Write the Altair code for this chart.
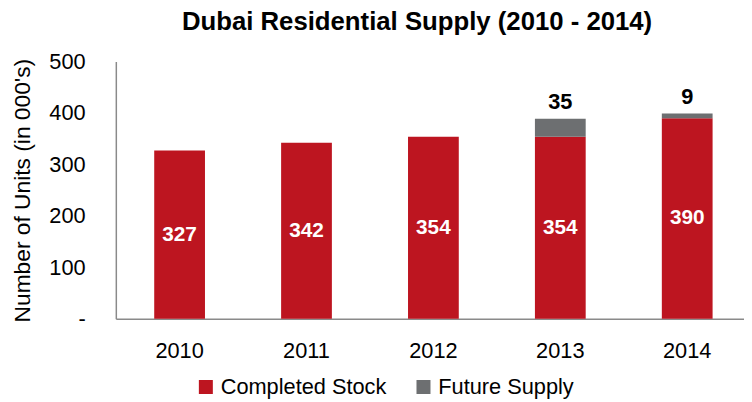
import altair as alt
import pandas as pd

years = ["2010", "2011", "2012", "2013", "2014"]
completed = [327, 342, 354, 354, 390]
future = [0, 0, 0, 35, 9]
series = ["Completed Stock", "Future Supply"]
colors = ["#BD1520", "#6D6F71"]

FONT = "Liberation Sans, Arial, sans-serif"

rows = []
for y, c, f in zip(years, completed, future):
    rows.append({"year": y, "series": series[0], "value": c, "ord": 0})
    rows.append({"year": y, "series": series[1], "value": f, "ord": 1})
df = pd.DataFrame(rows)

lab = pd.DataFrame({
    "year": years,
    "completed": completed,
    "mid": [c / 2 for c in completed],
    "future": future,
    "top": [c + f for c, f in zip(completed, future)],
})
lab_top = lab[lab["future"] > 0]

xscale = alt.Scale(paddingInner=0.6, paddingOuter=0.275, align=0.55)

bars = alt.Chart(df).mark_bar().encode(
    x=alt.X("year:N", scale=xscale, sort=years,
            axis=alt.Axis(title=None, labelAngle=0, ticks=False, domainColor="#8a8a8a",
                          domainWidth=1.5, labelFontSize=22, labelFont=FONT, labelColor="#000",
                          labelPadding=22)),
    y=alt.Y("value:Q", stack="zero",
            scale=alt.Scale(domain=[0, 500]),
            axis=alt.Axis(values=[0, 100, 200, 300, 400, 500], grid=False, ticks=False,
                          domainColor="#8a8a8a", domainWidth=1.5,
                          labelExpr="datum.value == 0 ? '-\u00a0\u00a0' : datum.label",
                          labelFontSize=22, labelFont=FONT, labelColor="#000", labelPadding=31,
                          title="Number of Units (in 000's)", titleFont=FONT, titleFontSize=23,
                          titleFontWeight="normal", titleColor="#000",
                          titleAngle=270, titleBaseline="alphabetic", titleX=-87, titleY=130)),
    color=alt.Color("series:N", scale=alt.Scale(domain=series, range=colors),
                    legend=alt.Legend(title=None, orient="none", direction="horizontal",
                                      legendX=80, legendY=318, symbolType="square",
                                      symbolSize=200, symbolStrokeWidth=0, labelFont=FONT,
                                      labelFontSize=22, labelColor="#000", columnPadding=26,
                                      labelLimit=0, padding=0, symbolOpacity=1)),
    order=alt.Order("ord:Q"),
)

mid_text = alt.Chart(lab).mark_text(font=FONT, fontSize=21, fontWeight="bold", color="white",
                                    baseline="middle").encode(
    x=alt.X("year:N", sort=years, scale=xscale),
    y=alt.Y("mid:Q"),
    text=alt.Text("completed:Q"),
)

top_text = alt.Chart(lab_top).mark_text(font=FONT, fontSize=22, fontWeight="bold", color="black",
                                        baseline="alphabetic", dy=-10).encode(
    x=alt.X("year:N", sort=years, scale=xscale),
    y=alt.Y("top:Q"),
    text=alt.Text("future:Q"),
)

chart = alt.layer(bars, mid_text, top_text).properties(
    width=635, height=260,
    autosize=alt.AutoSizeParams(type="none"),
    padding={"left": 109, "top": 52, "right": 0, "bottom": 80},
    title=alt.TitleParams("Dubai Residential Supply (2010 - 2014)", font=FONT, fontSize=26,
                          fontWeight="bold", color="#000", anchor="middle", frame="group",
                          baseline="alphabetic", offset=10, dx=-13, dy=15),
).configure_view(stroke=None)

chart.save("out.html", embed_options={"renderer": "svg", "actions": False})
